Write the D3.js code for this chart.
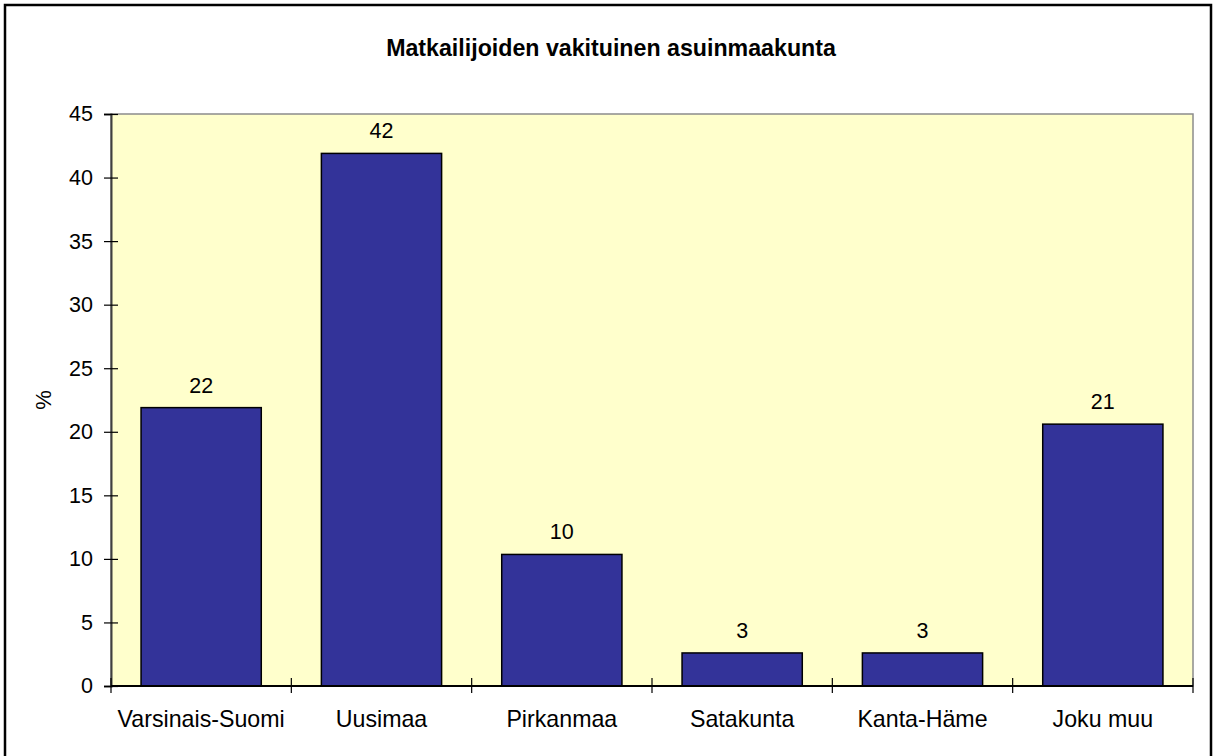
<!DOCTYPE html>
<html><head><meta charset="utf-8">
<script src="https://cdn.jsdelivr.net/npm/d3@7"></script>
<style>body{margin:0;background:#fff;}svg{display:block;}</style>
</head><body>
<script>
const categories = ["Varsinais-Suomi","Uusimaa","Pirkanmaa","Satakunta","Kanta-Häme","Joku muu"];
const values = [21.9, 41.9, 10.35, 2.6, 2.6, 20.6];
const valueLabels = ["22","42","10","3","3","21"];
const yTicks = [0,5,10,15,20,25,30,35,40,45];
const title = "Matkailijoiden vakituinen asuinmaakunta";
const yLabel = "%";

const W = 1216, H = 756;
const m = {left:111, right:1193, top:114, bottom:686};
const font = "Liberation Sans, Arial, sans-serif";

const svg = d3.select("body").append("svg").attr("width",W).attr("height",H);
svg.append("rect").attr("width",W).attr("height",H).attr("fill","#fff");
// outer frame (bottom edge cut off)
svg.append("rect").attr("x",5).attr("y",5).attr("width",1206).attr("height",800)
  .attr("fill","none").attr("stroke","#000").attr("stroke-width",2.5);

const x = d3.scaleBand().domain(categories).range([m.left,m.right]).paddingInner(1/3).paddingOuter(1/6);
const y = d3.scaleLinear().domain([0,45]).range([m.bottom,m.top]);

// plot area
svg.append("rect").attr("x",m.left).attr("y",m.top).attr("width",m.right-m.left).attr("height",m.bottom-m.top)
  .attr("fill","#FFFFCC").attr("stroke","#8c8c8c").attr("stroke-width",1.5);

// bars
svg.selectAll("rect.bar").data(values).join("rect").attr("class","bar")
  .attr("x",(d,i)=>x(categories[i])).attr("width",x.bandwidth())
  .attr("y",d=>y(d)).attr("height",d=>y(0)-y(d))
  .attr("fill","#333399").attr("stroke","#000").attr("stroke-width",1.5);

// value labels
svg.selectAll("text.val").data(values).join("text").attr("class","val")
  .attr("x",(d,i)=>x(categories[i])+x.bandwidth()/2).attr("y",d=>y(d)-15)
  .attr("text-anchor","middle").attr("font-family",font).attr("font-size",21.5).attr("fill","#000")
  .text((d,i)=>valueLabels[i]);

// y axis
const yAxis = svg.append("g").attr("transform",`translate(${m.left},0)`)
  .call(d3.axisLeft(y).tickValues(yTicks).tickSize(7).tickSizeInner(7).tickPadding(11));
yAxis.select(".domain").attr("stroke","#404040").attr("stroke-width",2);
yAxis.selectAll(".tick line").attr("x1",-7).attr("x2",7).attr("stroke","#000").attr("stroke-width",1.2);
yAxis.selectAll(".tick text").attr("font-family",font).attr("font-size",21.5).attr("fill","#000").attr("x",-18);

// x axis
const xb = d3.scaleLinear().domain([0,categories.length]).range([m.left,m.right]);
const xAxisG = svg.append("g");
xAxisG.append("line").attr("x1",m.left).attr("x2",m.right).attr("y1",m.bottom).attr("y2",m.bottom)
  .attr("stroke","#000").attr("stroke-width",2);
xAxisG.selectAll("line.xt").data(d3.range(categories.length+1)).join("line").attr("class","xt")
  .attr("x1",d=>xb(d)).attr("x2",d=>xb(d)).attr("y1",m.bottom-8).attr("y2",m.bottom+7)
  .attr("stroke","#000").attr("stroke-width",1.2);
xAxisG.selectAll("text.cat").data(categories).join("text").attr("class","cat")
  .attr("x",d=>x(d)+x.bandwidth()/2).attr("y",727)
  .attr("text-anchor","middle").attr("font-family",font).attr("font-size",23.2).attr("fill","#000")
  .text(d=>d);

// title
svg.append("text").attr("x",611).attr("y",56).attr("text-anchor","middle")
  .attr("font-family",font).attr("font-weight","bold").attr("font-size",23.2).attr("fill","#000").text(title);

// y label
svg.append("text").attr("transform","translate(51,400) rotate(-90)").attr("text-anchor","middle")
  .attr("font-family",font).attr("font-size",22).attr("fill","#000").text(yLabel);
</script>
</body></html>
